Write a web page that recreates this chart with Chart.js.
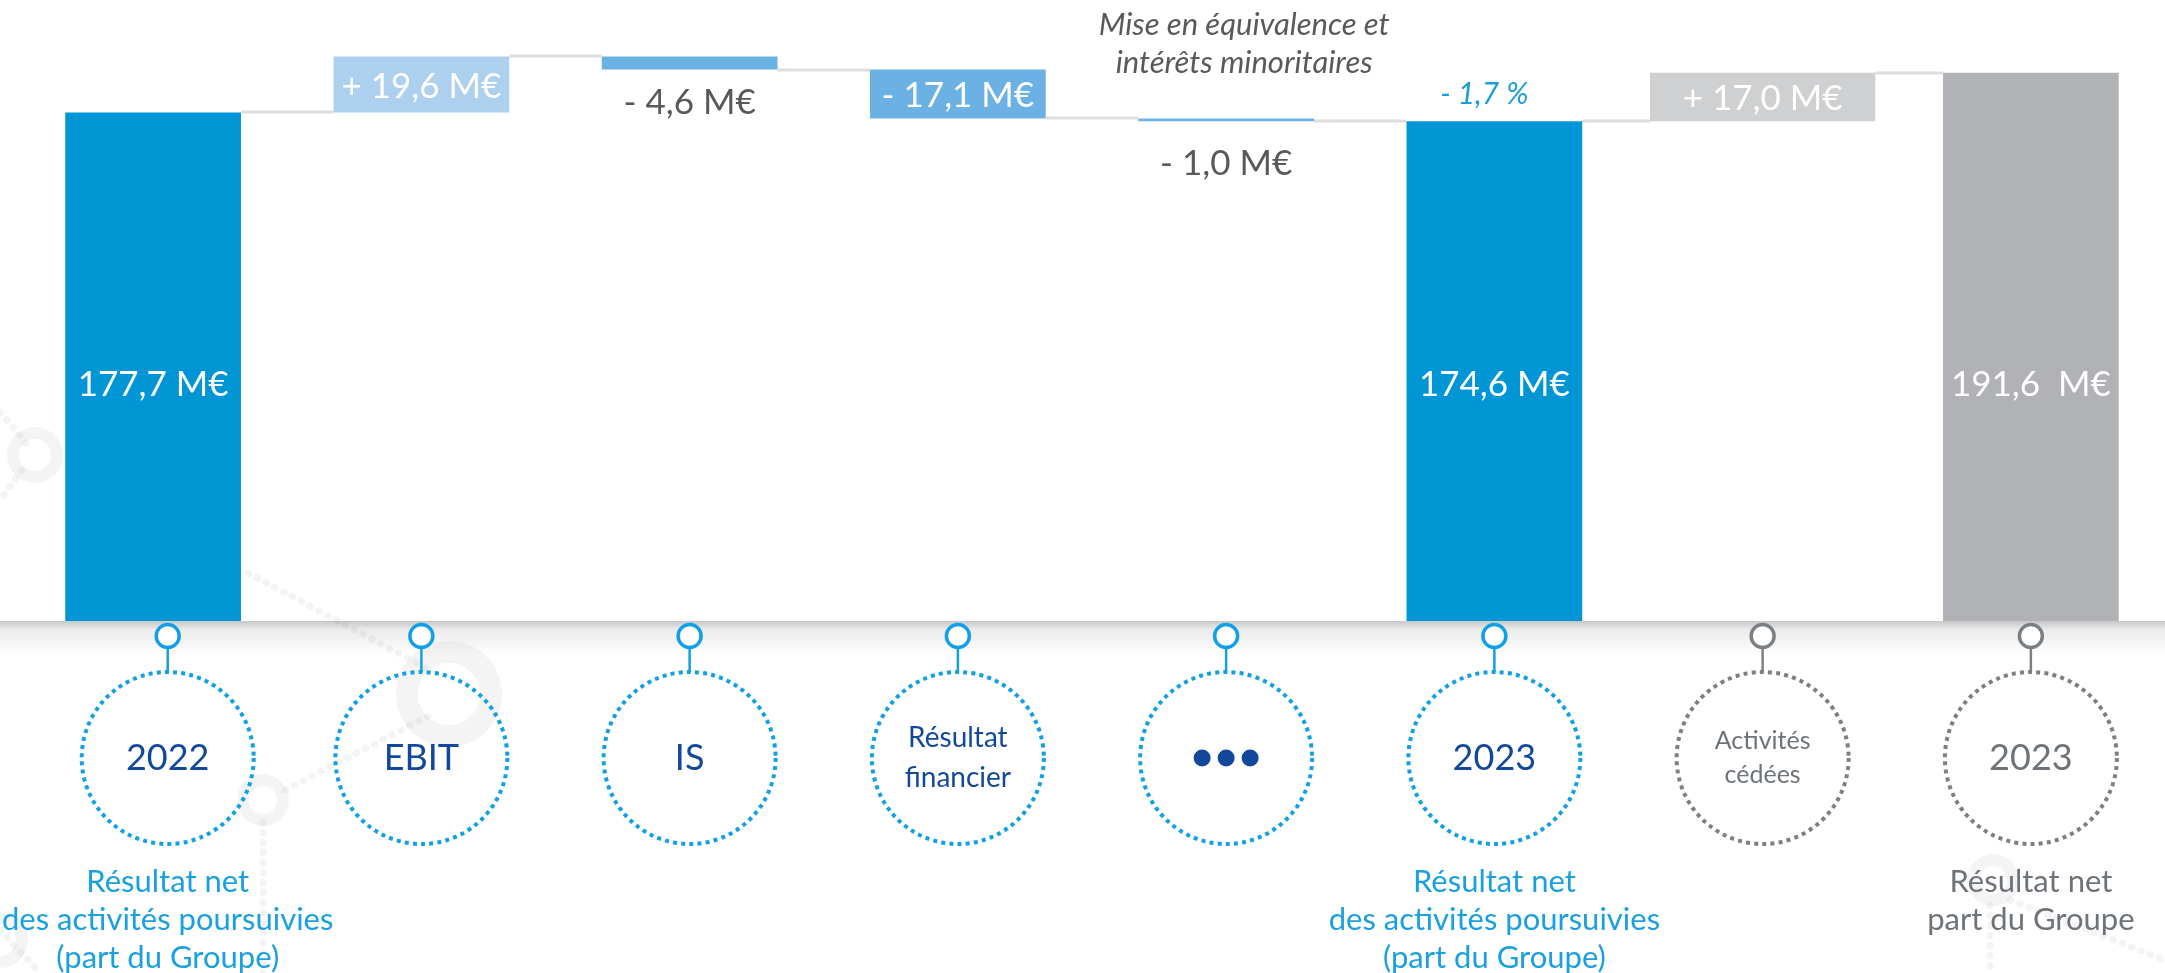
<!DOCTYPE html>
<html>
<head>
<meta charset="utf-8">
<script src="https://cdn.jsdelivr.net/npm/chart.js@4.4.1/dist/chart.umd.min.js"></script>
<style>
  html, body { margin: 0; padding: 0; background: #ffffff; }
  #wrap { width: 2165px; height: 973px; }
</style>
</head>
<body>
<div id="wrap"><canvas id="bridge" width="2165" height="973"></canvas></div>
<script>
// Données du pont (M€)
const categories = ['2022', 'EBIT', 'IS', 'Résultat financier', 'Mise en équivalence et intérêts minoritaires', '2023', 'Activités cédées', '2023'];
const kinds = ['total', 'delta', 'delta', 'delta', 'delta', 'total', 'delta', 'total'];
const values = [177.7, 19.6, -4.6, -17.1, -1.0, 174.6, 17.0, 191.6];
const valueLabels = ['177,7 M€', '+ 19,6 M€', '- 4,6 M€', '- 17,1 M€', '- 1,0 M€', '174,6 M€', '+ 17,0 M€', '191,6  M€'];
const circleLabels = [['2022'], ['EBIT'], ['IS'], ['Résultat', 'financier'], ['•••'], ['2023'], ['Activités', 'cédées'], ['2023']];
const captions = [
  ['Résultat net', 'des activités poursuivies', '(part du Groupe)'],
  [], [], [], [],
  ['Résultat net', 'des activités poursuivies', '(part du Groupe)'],
  [],
  ['Résultat net', 'part du Groupe']
];
const noteLines = ['Mise en équivalence et', 'intérêts minoritaires'];
const noteIndex = 4;
const variationLabel = '- 1,7 %';
const variationIndex = 5;

// styles
const barColors = ['#0095d5', '#aed0ef', '#6cb1e4', '#6cb1e4', '#6cb1e4', '#0095d5', '#cfd0d2', '#b0b2b5'];
const greyItems = [false, false, false, false, false, false, true, true];

// cumul du pont
let running = 0;
const ranges = values.map((v, i) => {
  if (kinds[i] === 'total') { running = v; return [0, v]; }
  const start = running;
  running += v;
  return [start, running];
});

const wideIdx = 6; // activités cédées, barre plus large
const mainData = ranges.map((r, i) => (i === wideIdx ? null : r));
const wideData = ranges.map((r, i) => (i === wideIdx ? r : null));

const FONT = 'Lato, "Open Sans", sans-serif';

function dottedCircle(ctx, x, y, r, color) {
  ctx.save();
  ctx.strokeStyle = color;
  ctx.lineWidth = 4;
  ctx.setLineDash([4, 4.2]);
  ctx.beginPath();
  ctx.arc(x, y, r, 0, Math.PI * 2);
  ctx.stroke();
  ctx.restore();
}

const decorPlugin = {
  id: 'decor',
  beforeDraw(chart) {
    const ctx = chart.ctx;
    ctx.save();
    // filigrane discret
    ctx.strokeStyle = 'rgba(0,0,0,0.045)';
    ctx.lineCap = 'round';
    ctx.setLineDash([1, 9]);
    ctx.lineWidth = 7;
    const dots = [
      [[0, 412], [30, 448]], [[22, 470], [0, 500]],
      [[248, 573], [430, 670]], [[263, 822], [263, 973]],
      [[285, 790], [430, 715]], [[0, 930], [40, 973]],
      [[2010, 900], [2165, 960]], [[1990, 905], [1990, 973]]
    ];
    dots.forEach(([a, b]) => {
      ctx.beginPath(); ctx.moveTo(a[0], a[1]); ctx.lineTo(b[0], b[1]); ctx.stroke();
    });
    ctx.setLineDash([]);
    ctx.lineWidth = 12;
    [[35, 455, 22], [263, 800, 20], [1993, 880, 20], [0, 940, 22]].forEach(([x, y, r]) => {
      ctx.beginPath(); ctx.arc(x, y, r, 0, Math.PI * 2); ctx.stroke();
    });
    ctx.lineWidth = 22;
    ctx.strokeStyle = 'rgba(0,0,0,0.045)';
    ctx.beginPath(); ctx.arc(449, 694, 42, 0, Math.PI * 2); ctx.stroke();
    ctx.restore();
  },
  beforeDatasetsDraw(chart) {
    // lignes de liaison entre barres
    const ctx = chart.ctx;
    const y = chart.scales.y;
    const metas = [chart.getDatasetMeta(0), chart.getDatasetMeta(1)];
    const bar = (i) => (i === wideIdx ? metas[1] : metas[0]).data[i];
    ctx.save();
    ctx.strokeStyle = '#dedede';
    ctx.lineWidth = 3;
    for (let i = 0; i < ranges.length - 1; i++) {
      const a = bar(i), b = bar(i + 1);
      const yy = Math.round(y.getPixelForValue(ranges[i][1]));
      ctx.beginPath();
      ctx.moveTo(a.x + a.width / 2, yy);
      ctx.lineTo(b.x - b.width / 2, yy);
      ctx.stroke();
    }
    ctx.restore();
  },
  afterDatasetsDraw(chart) {
    const ctx = chart.ctx;
    const x = chart.scales.x;
    const y = chart.scales.y;
    const area = chart.chartArea;
    const base = y.getPixelForValue(0);
    const metas = [chart.getDatasetMeta(0), chart.getDatasetMeta(1)];
    const bar = (i) => (i === wideIdx ? metas[1] : metas[0]).data[i];

    // ombre sous la ligne de base
    ctx.save();
    const g = ctx.createLinearGradient(0, base, 0, base + 34);
    g.addColorStop(0, 'rgba(0,0,0,0.22)');
    g.addColorStop(0.25, 'rgba(0,0,0,0.08)');
    g.addColorStop(1, 'rgba(0,0,0,0)');
    ctx.fillStyle = g;
    ctx.fillRect(0, base, chart.width, 34);
    ctx.restore();

    // étiquettes de valeur
    ctx.save();
    ctx.textAlign = 'center';
    ctx.textBaseline = 'middle';
    ranges.forEach((r, i) => {
      const el = bar(i);
      const top = y.getPixelForValue(Math.max(r[0], r[1]));
      const bottom = y.getPixelForValue(Math.min(r[0], r[1]));
      ctx.font = '35px ' + FONT;
      if (kinds[i] === 'total') {
        ctx.fillStyle = '#ffffff';
        ctx.fillText(valueLabels[i], el.x, base - 236);
      } else if (bottom - top > 30) {
        ctx.fillStyle = '#ffffff';
        ctx.fillText(valueLabels[i], el.x, (top + bottom) / 2 + 2);
      } else {
        ctx.fillStyle = '#58595b';
        ctx.fillText(valueLabels[i], el.x, bottom + (i === noteIndex ? 42 : 33));
      }
    });

    // note en italique
    const nx = bar(noteIndex).x + 18;
    ctx.font = 'italic 31px ' + FONT;
    ctx.fillStyle = '#58595b';
    ctx.fillText(noteLines[0], nx, area.top + 25);
    ctx.fillText(noteLines[1], nx, area.top + 63);

    // variation
    const vb = bar(variationIndex);
    ctx.font = 'italic 30px ' + FONT;
    ctx.fillStyle = '#1a9ddb';
    ctx.fillText(variationLabel, vb.x - 10, y.getPixelForValue(ranges[variationIndex][1]) - 27);

    // épingles, cercles pointillés et légendes
    categories.forEach((c, i) => {
      let cx = x.getPixelForValue(i);
      // garder la légende dans le cadre
      ctx.font = '31px ' + FONT;
      const half = Math.max(86, ...captions[i].map((l) => ctx.measureText(l).width / 2));
      cx = Math.min(Math.max(cx, half + 2), chart.width - half - 2);
      const grey = greyItems[i];
      const col = grey ? '#7b8085' : '#11a0e6';
      const pinY = base + 15;
      const cy = base + 137;
      const rad = 86;
      ctx.strokeStyle = col;
      ctx.setLineDash([]);
      ctx.lineWidth = 2.5;
      ctx.beginPath();
      ctx.moveTo(cx, pinY + 12);
      ctx.lineTo(cx, cy - rad);
      ctx.stroke();
      ctx.lineWidth = 3.5;
      ctx.fillStyle = '#ffffff';
      ctx.beginPath();
      ctx.arc(cx, pinY, 11.5, 0, Math.PI * 2);
      ctx.fill();
      ctx.stroke();
      dottedCircle(ctx, cx, cy, rad, col);

      const lines = circleLabels[i];
      ctx.fillStyle = grey ? '#6d7378' : '#12489c';
      if (lines[0] === '•••') {
        [-24, 0, 24].forEach((dx) => {
          ctx.beginPath(); ctx.arc(cx + dx, cy, 8.5, 0, Math.PI * 2); ctx.fill();
        });
      } else if (lines.length === 1) {
        ctx.font = '36px ' + FONT;
        ctx.fillText(lines[0], cx, cy);
      } else {
        ctx.font = (grey ? '25px ' : '28px ') + FONT;
        const step = grey ? 34 : 40;
        lines.forEach((l, k) => ctx.fillText(l, cx, cy + (k - (lines.length - 1) / 2) * step));
      }

      ctx.fillStyle = grey ? '#6d7378' : '#1aa0e0';
      ctx.font = '31px ' + FONT;
      captions[i].forEach((l, k) => ctx.fillText(l, cx, base + 261 + k * 38));
    });
    ctx.restore();
  }
};

new Chart(document.getElementById('bridge'), {
  type: 'bar',
  data: {
    labels: categories,
    datasets: [
      {
        label: 'Pont',
        data: mainData,
        backgroundColor: barColors,
        barPercentage: 0.655,
        categoryPercentage: 1,
        grouped: false,
        borderWidth: 0
      },
      {
        label: 'Activités cédées',
        data: wideData,
        backgroundColor: barColors,
        barPercentage: 0.84,
        categoryPercentage: 1,
        grouped: false,
        borderWidth: 0
      }
    ]
  },
  options: {
    responsive: false,
    animation: false,
    layout: { padding: { left: 19, right: 0, top: 0, bottom: 352 } },
    plugins: { legend: { display: false }, tooltip: { enabled: false } },
    scales: {
      x: { display: false, grid: { display: false } },
      y: { display: false, min: 0, max: 217, grid: { display: false } }
    }
  },
  plugins: [decorPlugin]
});
</script>
</body>
</html>
